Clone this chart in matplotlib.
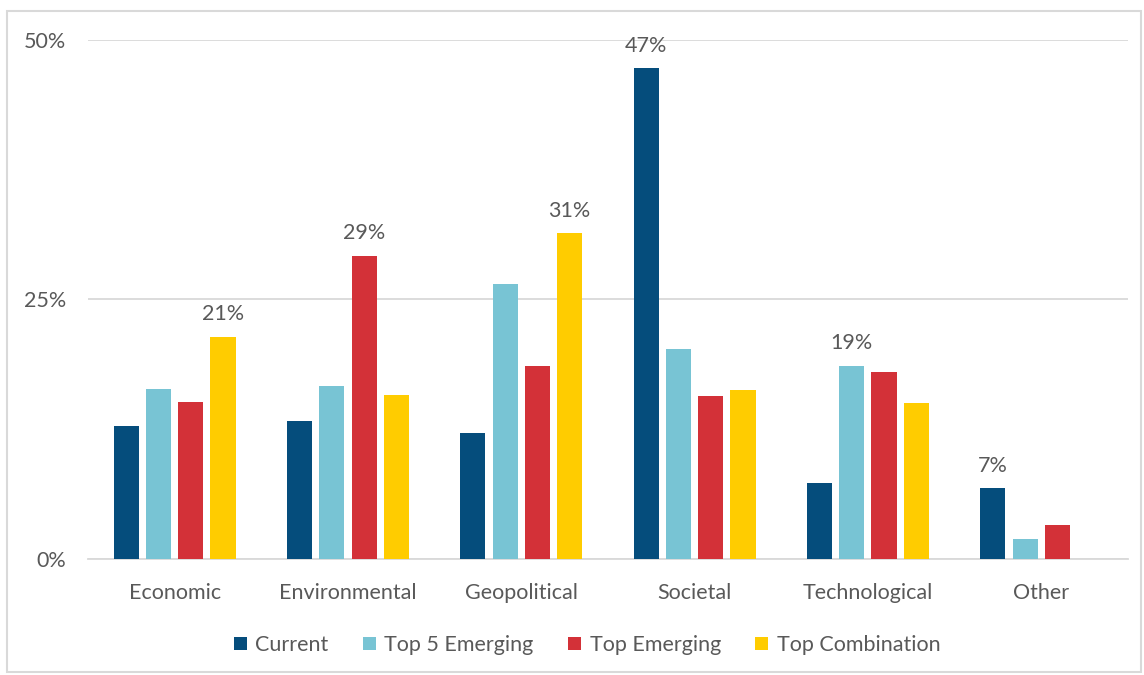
import numpy as np
import matplotlib.pyplot as plt
from matplotlib.patches import Rectangle

plt.rcParams['font.family'] = ['Lato', 'DejaVu Sans']

# data (percent)
categories = ['Economic', 'Environmental', 'Geopolitical', 'Societal', 'Technological', 'Other']
series_names = ['Current', 'Top 5 Emerging', 'Top Emerging', 'Top Combination']
current = [12.8, 13.3, 12.1, 47.3, 7.3, 6.8]
top5_emerging = [16.4, 16.7, 26.5, 20.2, 18.6, 1.9]
top_emerging = [15.1, 29.2, 18.6, 15.7, 18.0, 3.3]
top_combination = [21.4, 15.8, 31.4, 16.3, 15.0, 0.0]
colors = ['#054D7C', '#78C4D4', '#D33138', '#FFCC00']

series = [current, top5_emerging, top_emerging, top_combination]
txt = '#595959'
fs = 15.5

fig = plt.figure(figsize=(11.44, 6.75), dpi=100)
ax = fig.add_axes([0.0769, 0.1719, 0.909, 0.7688])
# light border round the chart
fig.patches.append(Rectangle((7 / 1144, 3 / 675), 1 - 10 / 1144, 1 - 14 / 675,
                             transform=fig.transFigure, fill=False,
                             edgecolor='#D9D9D9', linewidth=1.5))

x = np.arange(len(categories))
w = 0.145
step = 0.186
for i, (vals, name, c) in enumerate(zip(series, series_names, colors)):
    ax.bar(x + (i - 1.5) * step, vals, width=w, color=c, label=name, zorder=3)

# label the tallest bar of each group
data = np.array(series)
for j in range(len(categories)):
    i = int(np.argmax(data[:, j]))
    v = data[i, j]
    ax.annotate(f'{v:.0f}%', (x[j] + (i - 1.5) * step, v), xytext=(0, 9),
                textcoords='offset points', ha='center', va='bottom',
                fontsize=fs, color=txt)

ax.set_xlim(-0.5, len(categories) - 0.5)
ax.set_ylim(0, 50)
ax.set_yticks([0, 25, 50])
ax.set_yticklabels(['0%', '25%', '50%'])
ax.set_xticks(x)
ax.set_xticklabels(categories)
ax.grid(axis='y', color='#D9D9D9', linewidth=1.3, zorder=0)
for s in ['top', 'right', 'left']:
    ax.spines[s].set_visible(False)
ax.spines['bottom'].set_color('#D9D9D9')
ax.spines['bottom'].set_linewidth(1.3)
ax.tick_params(length=0, labelsize=fs, colors=txt)
ax.tick_params(axis='x', pad=17)
ax.tick_params(axis='y', pad=16)

ax.legend(loc='center', bbox_to_anchor=(0.48, -0.166), ncol=4, frameon=False,
          fontsize=fs, labelcolor=txt, handlelength=0.6, handleheight=0.6,
          handletextpad=0.4, columnspacing=1.6)

fig.savefig('out.png', dpi=100)
